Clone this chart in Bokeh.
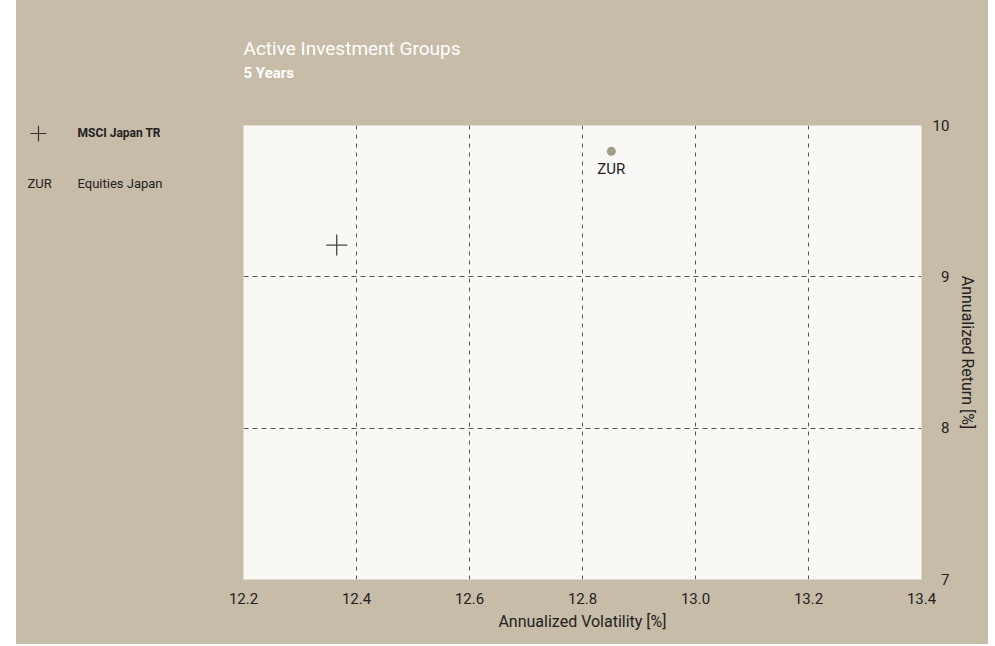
from bokeh.plotting import figure
from bokeh.models import (Range1d, FixedTicker, ColumnDataSource, LabelSet,
                          NumeralTickFormatter, Title, Spacer)
from bokeh.layouts import row
from bokeh.core.properties import value
from bokeh.embed import file_html
from bokeh.resources import INLINE

# ---- data ----
x_ticks = [12.2, 12.4, 12.6, 12.8, 13.0, 13.2, 13.4]
y_ticks = [7, 8, 9, 10]
x_grid = [12.4, 12.6, 12.8, 13.0, 13.2]
y_grid = [8, 9]
bench_name = ["MSCI Japan TR"]
bench_vol = [12.365]
bench_ret = [9.21]
group_code = ["ZUR"]
group_name = ["Equities Japan"]
group_vol = [12.851]
group_ret = [9.83]

FONT = "Roboto"
BEIGE = "#c7bca8"
PLOT_BG = "#f9f8f5"
TXT = "#222222"
GRID = "#555555"

H = 644                     # page height used
LEFT_X0, LEFT_X1 = 16, 166  # legend strip (page x)
FL, FR, FT, FB = 243, 921, 125, 579   # plot area in page px
RIGHT_EDGE = 988

# ---------------- legend strip (left) ----------------
lg = figure(width=LEFT_X1 - LEFT_X0, height=H,
            x_range=Range1d(LEFT_X0, LEFT_X1), y_range=Range1d(FB, FT),
            x_axis_location=None, y_axis_location=None,
            min_border_left=0, min_border_right=0, min_border_top=FT,
            min_border_bottom=H - FB, background_fill_color=None,
            border_fill_color=BEIGE, outline_line_color=None,
            output_backend="svg", toolbar_location=None)
lg.grid.visible = False
lg.scatter([38], [133], marker="cross", size=16, line_color="#333333", line_width=1.2)
lg.text([77], [132], text=bench_name, text_align="left", text_baseline="middle",
        text_font=value(FONT), text_font_size="12px", text_font_style="bold",
        text_color=TXT)
lg.text([27], [183], text=group_code, text_align="left", text_baseline="middle",
        text_font=value(FONT), text_font_size="13px", text_color=TXT)
lg.text([77], [183], text=group_name, text_align="left", text_baseline="middle",
        text_font=value(FONT), text_font_size="13px", text_color=TXT)

# ---------------- main chart ----------------
p = figure(frame_width=FR - FL, frame_height=FB - FT,
           x_range=Range1d(12.2, 13.4), y_range=Range1d(7, 10),
           y_axis_location="right",
           min_border_left=FL - LEFT_X1, min_border_right=RIGHT_EDGE - FR,
           min_border_top=FT, min_border_bottom=H - FB,
           background_fill_color=PLOT_BG, border_fill_color=BEIGE,
           outline_line_color=None, output_backend="svg", toolbar_location=None)

for ax in (p.xaxis[0], p.yaxis[0]):
    ax.axis_line_color = None
    ax.major_tick_line_color = None
    ax.minor_tick_line_color = None
    ax.major_label_text_font = FONT
    ax.major_label_text_font_size = "15px"
    ax.major_label_text_color = TXT
    ax.axis_label_text_font = FONT
    ax.axis_label_text_font_size = "16px"
    ax.axis_label_text_font_style = "normal"
    ax.axis_label_text_color = TXT

p.xaxis.ticker = FixedTicker(ticks=x_ticks)
p.xaxis.formatter = NumeralTickFormatter(format="0.0")
p.xaxis.major_label_standoff = 7
p.xaxis.axis_label = "Annualized Volatility [%]"
p.xaxis.axis_label_standoff = 5

p.yaxis.ticker = FixedTicker(ticks=y_ticks)
p.yaxis.formatter = NumeralTickFormatter(format="0")
p.yaxis.major_label_overrides = {t: ("\u2007" + str(t) if t < 10 else str(t)) for t in y_ticks}
p.yaxis.major_label_standoff = 5
p.yaxis.axis_label = "Annualized Return [%]"
p.yaxis.axis_label_standoff = 6

p.xgrid.ticker = FixedTicker(ticks=x_grid)
p.ygrid.ticker = FixedTicker(ticks=y_grid)
p.xgrid.grid_line_color = GRID
p.xgrid.grid_line_dash = "4 5"
p.ygrid.grid_line_color = GRID
p.ygrid.grid_line_dash = "5 4"

# titles: an empty spacer title nearest the plot, then subtitle, then title
p.add_layout(Title(text=" ", text_font_size="1px", standoff=41), "above")
p.add_layout(Title(text="5 Years", align="left", text_font=FONT,
                   text_font_size="15px", text_font_style="bold",
                   text_color="white", standoff=0), "above")
p.add_layout(Title(text="Active Investment Groups", align="left", text_font=FONT,
                   text_font_size="19px", text_font_style="normal",
                   text_color="white", standoff=4), "above")

# marks
p.scatter(bench_vol, bench_ret, marker="cross", size=21, line_color="#444444",
          line_width=1.3)
src = ColumnDataSource(dict(x=group_vol, y=group_ret, code=group_code))
p.scatter("x", "y", source=src, marker="circle", size=9, fill_color="#a39b8b",
          line_color=None)
p.add_layout(LabelSet(x="x", y="y", text="code", source=src, text_align="center",
                      text_baseline="top", y_offset=-9, text_font=value(FONT),
                      text_font_size="15px", text_color=TXT))

inner = row(lg, p, styles={"background-color": BEIGE})
layout = row(Spacer(width=LEFT_X0, height=H), inner)
open("out.html", "w").write(file_html(layout, INLINE))
